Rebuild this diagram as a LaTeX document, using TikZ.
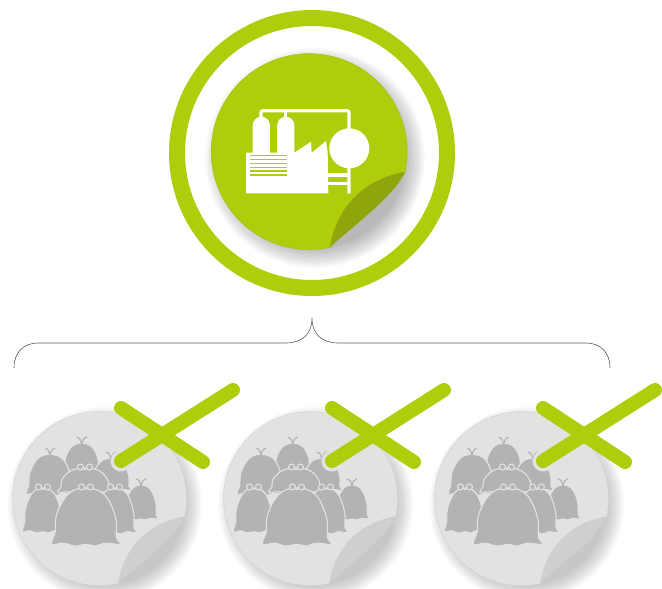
\documentclass[tikz,border=0pt]{standalone}
\usepackage{tikz}
\definecolor{leaf}{HTML}{AFCD0A}
\definecolor{leafdark}{HTML}{90A50C}
\definecolor{discgrey}{HTML}{E2E2E2}
\definecolor{flapgrey}{HTML}{CFCFCF}
\definecolor{baggrey}{HTML}{B3B3B3}
\tikzset{
  ring/.style={draw=leaf, line width=16pt},
  brace/.style={draw=black!65, line width=0.6pt},
  crossbar/.style={draw=leaf, line width=14pt, line cap=round},
  halo/.style={draw=discgrey, line width=21pt, line cap=round},
  bagbody/.style={fill=baggrey, draw=discgrey, line width=1.1pt},
  plant/.style={draw=white, line width=3.2pt},
  sprout/.pic={
    \draw[draw=baggrey, line width=1.2pt] (-5,-6) .. controls (-2,-6) and (-1,-3) .. (0,1);
    \draw[draw=baggrey, line width=1.2pt] (5,-6.5) .. controls (2,-6) and (1,-3) .. (0,1);
  },
  curls/.pic={
    \draw[draw=discgrey, fill=baggrey, line width=1.1pt] (-4.5,-1) circle[radius=3];
    \draw[draw=discgrey, fill=baggrey, line width=1.1pt] (4.5,-1) circle[radius=3];
    \draw[draw=discgrey, fill=discgrey] (0,1) circle[radius=1.2];
  },
}
% disc with its corner turned up: fill, flap, strength of the shadow
\newcommand{\peeldisc}[3]{
  \foreach \k in {0,...,15}
    \fill[black, opacity=#3] (7,7) circle[radius=90+1.33*\k];
  \path[fill=#1, draw=#1!92!black, line width=.4pt] (97,21) arc[start angle=12, end angle=-283, radius=98]
    .. controls (28,58) and (55,28) .. cycle;
  \fill[#2] (22,96) .. controls (28,58) and (55,28) .. (97,21)
    .. controls (88,42) and (52,70) .. cycle;
}
\newcommand{\bag}[4]{
  \begin{scope}[shift={(#1,#2)}, xscale=#3, yscale=#4]
    \path[bagbody] plot[smooth cycle, tension=.6] coordinates {
      (0,0) (.42,.05) (.72,.22) (.94,.55) (.95,.85) (1.08,.97) (.6,.95) (.3,1)
      (0,.97) (-.35,1) (-.7,.95) (-1.08,.97) (-.96,.75) (-.94,.5) (-.72,.22) (-.42,.05)};
  \end{scope}
}
\begin{document}
\begin{tikzpicture}[x=1pt, y=-1pt]
\useasboundingbox (0,0) rectangle (662,589);

\draw[ring] (312,153) circle[radius=135];

\begin{scope}[shift={(308,151)}]
  \peeldisc{leaf}{leafdark}{0.019}
\end{scope}

% factory
\fill[white] (246,152.7) -- (294.3,152.7) -- (311,141.7) -- (311.7,152.7) -- (326,141)
  -- (327.7,152.7) -- (328.3,193.3) -- (246,193.3) -- cycle;
\foreach \tx in {261.3,285.8}
  \fill[white] (\tx-8.6,153) -- (\tx-8.6,125.3)
    arc[start angle=180, end angle=360, radius=8.6] -- (\tx+8.6,153) -- cycle;
\draw[plant, rounded corners=2pt] (261,118) -- (261,110.7) -- (349,110.7) -- (349,193.3);
\draw[plant] (285.7,110.7) -- (285.7,118);
\fill[white] (349.3,148.3) circle[radius=20];
\foreach \ry in {175,183.3}
  \draw[plant] (328,\ry) -- (349,\ry);
\foreach \ry in {155.3,159.3,163.3,167.3,171.2,175}
  \draw[draw=leaf, line width=1.6pt] (250,\ry) -- (287.3,\ry);

% brace
\coordinate (braceL) at (14,368);
\coordinate (braceTip) at (312,318);
\coordinate (braceR) at (610,368);
\draw[brace] (braceL) .. controls (14,352) and (24,343) .. (38,343) -- (286,343)
  .. controls (302,343) and (312,334) .. (braceTip)
  .. controls (312,334) and (322,343) .. (338,343) -- (586,343)
  .. controls (600,343) and (610,352) .. (braceR);

\foreach \dx in {0,211,422}{
  \begin{scope}[shift={(\dx,0)}]
    \begin{scope}[shift={(98.5,498)}, scale=.888]
      \peeldisc{discgrey}{flapgrey}{0.017}
    \end{scope}
    % bags, back to front
    \foreach \bx/\by/\bw/\bh in {81.7/443.3/17.5/30, 50/454.3/22/41, 111/458.3/19/33, 141/485/16/35}{
      \bag{\bx}{\by}{\bw}{\bh}
      \pic at (\bx,\by) {sprout};
    }
    \foreach \bx/\by/\bw/\bh in {85/468/25/25, 43/488/19/45, 115/488/20/46, 86/488/32/58}{
      \bag{\bx}{\by}{\bw}{\bh}
      \pic at (\bx,\by) {curls};
    }
    \begin{scope}
      \clip (98.5,498) circle[radius=87];
      \draw[halo] (121,461) -- (233,390);
    \end{scope}
    \draw[crossbar] (121,408) -- (203,462);
    \draw[crossbar] (121,461) -- (233,390);
  \end{scope}
}
\end{tikzpicture}
\end{document}
